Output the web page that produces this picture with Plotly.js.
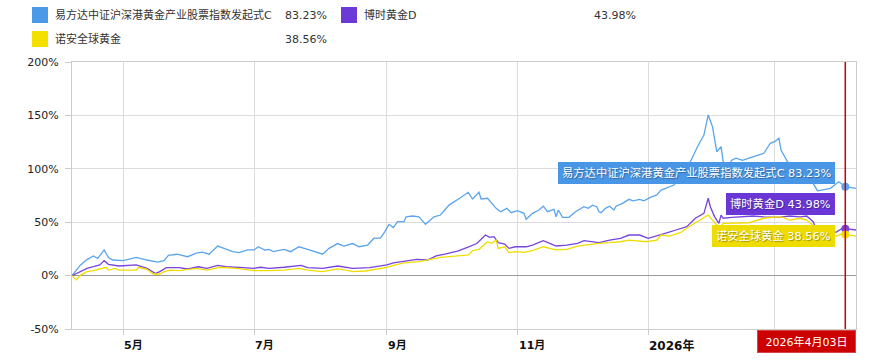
<!DOCTYPE html>
<html>
<head>
<meta charset="utf-8">
<script src="https://cdn.plot.ly/plotly-3.0.1.min.js"></script>
<style>html,body{margin:0;padding:0;background:#fff;}#chart{width:882px;height:363px;}</style>
</head>
<body>
<div id="chart"></div>
<script>
// ---- data ----
const seriesNames = ["易方达中证沪深港黄金产业股票指数发起式C", "博时黄金D", "诺安全球黄金"];
const finalReturns = [83.23, 43.98, 38.56];
const endDate = "2026-04-03";
const endDateLabel = "2026年4月03日";

const blueDates = ["2025-04-07","2025-04-11","2025-04-14","2025-04-17","2025-04-19","2025-04-22","2025-04-24","2025-04-26","2025-05-01","2025-05-07","2025-05-12","2025-05-17","2025-05-20","2025-05-22","2025-05-26","2025-05-31","2025-06-04","2025-06-07","2025-06-10","2025-06-14","2025-06-17","2025-06-21","2025-06-24","2025-06-28","2025-07-01","2025-07-03","2025-07-06","2025-07-08","2025-07-10","2025-07-15","2025-07-18","2025-07-22","2025-07-26","2025-07-29","2025-08-02","2025-08-05","2025-08-09","2025-08-12","2025-08-16","2025-08-19","2025-08-23","2025-08-26","2025-08-29","2025-08-31","2025-09-02","2025-09-04","2025-09-06","2025-09-09","2025-09-10","2025-09-13","2025-09-16","2025-09-19","2025-09-23","2025-09-26","2025-09-30","2025-10-05","2025-10-09","2025-10-11","2025-10-14","2025-10-15","2025-10-18","2025-10-22","2025-10-24","2025-10-27","2025-10-29","2025-11-01","2025-11-04","2025-11-05","2025-11-08","2025-11-11","2025-11-13","2025-11-15","2025-11-18","2025-11-19","2025-11-20","2025-11-22","2025-11-25","2025-11-28","2025-12-02","2025-12-04","2025-12-06","2025-12-08","2025-12-09","2025-12-10","2025-12-12","2025-12-14","2025-12-16","2025-12-17","2025-12-20","2025-12-23","2025-12-25","2025-12-28","2025-12-30","2026-01-02","2026-01-05","2026-01-07","2026-01-10","2026-01-13","2026-01-16","2026-01-19","2026-01-21","2026-01-24","2026-01-27","2026-01-28","2026-01-29","2026-01-31","2026-02-02","2026-02-04","2026-02-05","2026-02-07","2026-02-09","2026-02-11","2026-02-14","2026-02-17","2026-02-21","2026-02-24","2026-02-27","2026-03-01","2026-03-03","2026-03-04","2026-03-07","2026-03-10","2026-03-15","2026-03-19","2026-03-21","2026-03-23","2026-03-27","2026-03-31","2026-04-03","2026-04-08"];
const blueValues = [0,10,15,18.4,16,24,17,14.6,14,17,14.6,12.7,14,19,20,17.7,21,22,20,27.7,25.5,22.4,21.5,24,24,27,24,24.6,22.4,24.6,22.4,27,24.6,22.4,20,25.5,30,27.7,30,27,28.6,35,35,41,48,45,50.5,50.5,55,55.8,55,48,55,56.7,66,72.4,78,71.7,78,71.7,72.4,63,59.8,63,58.9,60.8,58.3,52.7,58.3,61.4,65,59.8,62,55,61.4,54.6,54.6,59.8,64.5,63,66,64.5,59.8,58.9,63,65,61.4,65,67.7,71.4,70,71.4,70,73.3,75.5,80,82.7,84.8,92,100,108,120.7,131.6,142.6,150.4,139.4,116,120.7,106.7,102,108,110,108,110,113,114.5,123.9,125.4,128.6,117.6,106.7,96,90,86.4,79.5,80,81.7,87.9,83.23,81.7];

const purpleDates = ["2025-04-07","2025-04-11","2025-04-14","2025-04-17","2025-04-20","2025-04-22","2025-04-24","2025-04-29","2025-05-07","2025-05-12","2025-05-16","2025-05-18","2025-05-21","2025-05-27","2025-05-31","2025-06-05","2025-06-09","2025-06-14","2025-06-18","2025-06-26","2025-07-01","2025-07-04","2025-07-08","2025-07-15","2025-07-23","2025-07-26","2025-08-02","2025-08-09","2025-08-12","2025-08-16","2025-08-24","2025-09-01","2025-09-04","2025-09-09","2025-09-15","2025-09-20","2025-09-24","2025-09-28","2025-10-04","2025-10-08","2025-10-13","2025-10-17","2025-10-19","2025-10-21","2025-10-23","2025-10-26","2025-10-28","2025-10-31","2025-11-05","2025-11-08","2025-11-13","2025-11-16","2025-11-19","2025-11-24","2025-11-29","2025-12-02","2025-12-05","2025-12-09","2025-12-14","2025-12-19","2025-12-23","2025-12-28","2026-01-01","2026-01-05","2026-01-10","2026-01-14","2026-01-19","2026-01-23","2026-01-27","2026-01-29","2026-01-30","2026-02-01","2026-02-03","2026-02-04","2026-02-05","2026-02-09","2026-02-14","2026-02-19","2026-02-24","2026-03-03","2026-03-08","2026-03-13","2026-03-16","2026-03-19","2026-03-20","2026-03-23","2026-03-27","2026-03-30","2026-04-02","2026-04-03","2026-04-08"];
const purpleValues = [0,3.7,6.8,8.3,10,14,10.6,9,10,6.8,2,3.7,7.4,7.4,6.2,8.3,6.8,9.6,8.3,7.4,6.8,7.8,6.8,7.8,9.6,7.4,6.8,9,8.3,6.8,7.4,10,12,13.7,15.2,14.6,18.4,20,23,26,30,38,35.8,36.4,30.8,29.6,25.5,27,27,28.6,32.7,30.2,27.7,28.6,30.2,32.7,31.7,30.8,33.3,34.9,38,38,34.9,37,40.2,42.7,45.8,53.7,58.3,72.4,64.5,55,49,56.7,53.7,54.6,55,55.8,55,54.6,55.8,55,55.8,50.5,45.8,42,40,41,44.9,43.98,42.7];

const yellowDates = ["2025-04-07","2025-04-09","2025-04-11","2025-04-14","2025-04-17","2025-04-20","2025-04-23","2025-04-24","2025-04-27","2025-04-29","2025-05-07","2025-05-08","2025-05-12","2025-05-15","2025-05-18","2025-05-20","2025-05-23","2025-05-27","2025-06-04","2025-06-09","2025-06-15","2025-06-23","2025-07-01","2025-07-08","2025-07-15","2025-07-22","2025-07-26","2025-08-02","2025-08-09","2025-08-13","2025-08-16","2025-08-22","2025-09-01","2025-09-05","2025-09-09","2025-09-16","2025-09-20","2025-09-26","2025-10-04","2025-10-09","2025-10-11","2025-10-14","2025-10-18","2025-10-20","2025-10-22","2025-10-23","2025-10-26","2025-10-28","2025-10-31","2025-11-04","2025-11-08","2025-11-13","2025-11-19","2025-11-24","2025-11-29","2025-12-03","2025-12-05","2025-12-09","2025-12-14","2025-12-19","2025-12-23","2025-12-28","2025-12-31","2026-01-05","2026-01-07","2026-01-11","2026-01-16","2026-01-20","2026-01-25","2026-01-27","2026-01-29","2026-01-31","2026-02-02","2026-02-03","2026-02-05","2026-02-17","2026-02-24","2026-03-02","2026-03-05","2026-03-08","2026-03-13","2026-03-16","2026-03-20","2026-03-24","2026-03-30","2026-04-02","2026-04-03","2026-04-08"];
const yellowValues = [0,-4,0.5,3.7,4.6,5.9,7.8,5.2,6.8,5.2,5.2,7.8,5.9,1.5,1.5,3.7,5.2,4.6,6.8,5.2,7.8,6.8,4.6,4.6,5.2,6.8,5.2,3.7,6.2,5.2,3.7,4.3,7.8,10,12,13,14.6,17,18.4,19.3,23.3,24.6,31.7,30.2,33.3,25.5,27,21.5,22.4,21.8,23.3,27,24,24.6,27.7,28.6,29.6,30.2,30.8,31.7,33.3,32.7,31.7,33.3,38,37,40.2,45.8,52,53.7,56.7,52,47.4,44,49,49.5,53.7,55,54.6,52,53.7,52,45,39,37,39.6,38.56,37];

const tickDates = ["2025-05-01","2025-07-01","2025-09-01","2025-11-01","2026-01-01","2026-03-01"];
const tickLabels = ["5月","7月","9月","11月","2026年",""];
const yTicks = [-50, 0, 50, 100, 150, 200];

// ---- styles ----
const colors = ["#5aa5ee", "#7744dd", "#f2dc00"];
const boxColors = ["#4a96e6", "#6b36d6", "#eedb00"];
const legendColors = ["#4a9ae8", "#6c38d8", "#f3e000"];
const FONT = "DejaVu Sans, 'Noto Sans CJK SC', sans-serif";
const L = 72, R = 856, T = 62, B = 329;
const px = X => (X - L) / (R - L);
const py = Y => (B - Y) / (B - T);

const lineData = [[blueDates, blueValues], [purpleDates, purpleValues], [yellowDates, yellowValues]];
const traces = lineData.map((d, i) => ({
  type: "scatter", mode: "lines", x: d[0], y: d[1], name: seriesNames[i],
  line: {color: colors[i], width: 1.3}, hoverinfo: "skip"
}));
finalReturns.forEach((v, i) => traces.push({
  type: "scatter", mode: "markers", x: [endDate], y: [v],
  marker: {color: colors[i], size: 8}, hoverinfo: "skip"
}));

const shapes = [
  {type: "line", xref: "x", yref: "paper", x0: endDate, x1: endDate, y0: 0, y1: 1,
   line: {color: "#cc0000", width: 1.5}},
  {type: "rect", xref: "paper", yref: "paper", x0: px(32), x1: px(48), y0: py(23), y1: py(7), fillcolor: legendColors[0], line: {width: 0}},
  {type: "rect", xref: "paper", yref: "paper", x0: px(341), x1: px(357), y0: py(23), y1: py(7), fillcolor: legendColors[1], line: {width: 0}},
  {type: "rect", xref: "paper", yref: "paper", x0: px(32), x1: px(48), y0: py(47), y1: py(31), fillcolor: legendColors[2], line: {width: 0}}
];

const legendPos = [[53, 283, 15], [362, 592, 15], [53, 283, 39]];
const annotations = [];
legendPos.forEach((p, i) => {
  annotations.push({xref: "paper", yref: "paper", x: px(p[0]), y: py(p[2]), xanchor: "left", yanchor: "middle",
    text: seriesNames[i], showarrow: false, font: {family: FONT, size: 11, color: "#333"}});
  annotations.push({xref: "paper", yref: "paper", x: px(p[1]), y: py(p[2]), xanchor: "left", yanchor: "middle",
    text: finalReturns[i].toFixed(2) + "%", showarrow: false, font: {family: FONT, size: 11, color: "#333"}});
});

tickDates.forEach((d, i) => {
  if (!tickLabels[i]) return;
  annotations.push({xref: "x", yref: "paper", x: d, y: py(345), xanchor: "left", yanchor: "middle", xshift: -1,
    text: "<b>" + tickLabels[i] + "</b>", showarrow: false,
    font: {family: FONT, size: i === 4 ? 12 : 11, color: "#111"}});
});

const boxY = [172.5, 203.5, 236.5];
finalReturns.forEach((v, i) => annotations.push({
  xref: "paper", yref: "paper", x: px(835), y: py(boxY[i]), xanchor: "right", yanchor: "middle",
  text: seriesNames[i] + " " + v.toFixed(2) + "%", showarrow: false,
  bgcolor: boxColors[i], bordercolor: boxColors[i], borderwidth: 1, borderpad: 3,
  font: {family: FONT, size: 11.3, color: "#fff", shadow: "1px 1px 1px rgba(0,0,0,0.35)"}
}));

annotations.push({
  xref: "paper", yref: "paper", x: 1, y: py(330), xanchor: "right", yanchor: "top",
  text: endDateLabel, showarrow: false, bgcolor: "#cc0000", bordercolor: "#d84444", borderwidth: 1,
  borderpad: 3, width: 91, height: 15, font: {family: FONT, size: 11, color: "#fff"}
});

const layout = {
  width: 882, height: 363,
  margin: {l: L, r: 882 - R, t: T, b: 363 - B, pad: 0},
  paper_bgcolor: "#fff", plot_bgcolor: "#fff",
  showlegend: false, hovermode: false,
  xaxis: {type: "date", range: ["2025-04-07", "2026-04-08"], tickvals: tickDates, showticklabels: false,
    ticks: "outside", ticklen: 5, tickcolor: "#ccc", showgrid: true, gridcolor: "#dcdcdc", gridwidth: 1,
    showline: true, linecolor: "#ccc", linewidth: 1, mirror: true, zeroline: false, fixedrange: true},
  yaxis: {range: [-50, 200], tickmode: "array", tickvals: yTicks, ticktext: yTicks.map(v => v + "%"),
    ticks: "outside", ticklen: 6, tickcolor: "#ccc",
    showgrid: true, gridcolor: "#dcdcdc", zeroline: true, zerolinecolor: "#999", zerolinewidth: 1,
    showline: true, linecolor: "#ccc", mirror: true, tickfont: {family: FONT, size: 11, color: "#222"},
    ticklabelstandoff: 4, fixedrange: true},
  shapes: shapes, annotations: annotations
};

Plotly.newPlot("chart", traces, layout, {staticPlot: true, displayModeBar: false});
</script>
</body>
</html>
